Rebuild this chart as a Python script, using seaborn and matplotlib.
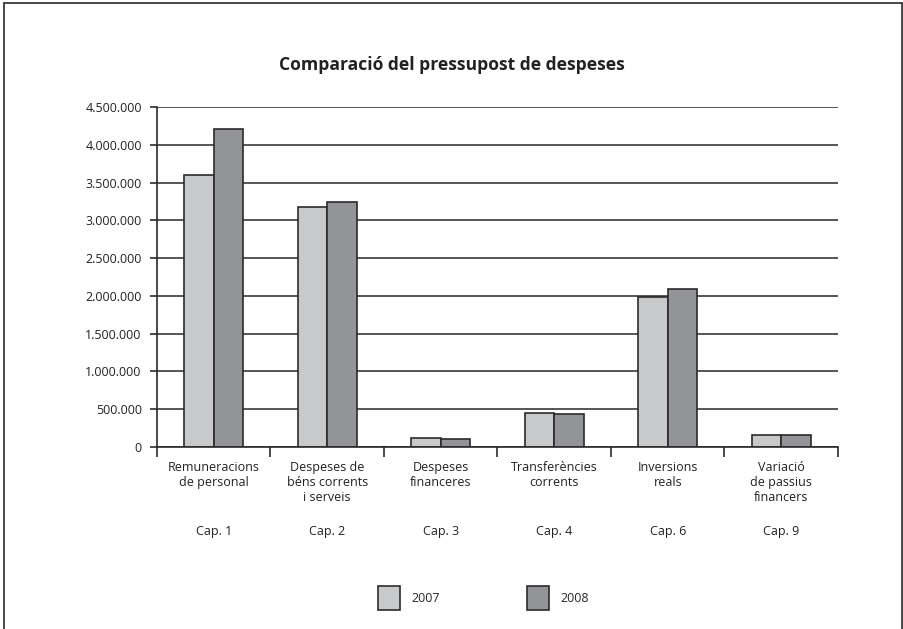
# Comparació del pressupost de despeses - grouped bars 2007 vs 2008
import pandas as pd
import numpy as np
import seaborn as sns
import matplotlib.pyplot as plt
from matplotlib.lines import Line2D
from matplotlib.ticker import FuncFormatter

# Data
categories = ['Remuneracions\nde personal', 'Despeses de\nbéns corrents\ni serveis',
              'Despeses\nfinanceres', 'Transferències\ncorrents',
              'Inversions\nreals', 'Variació\nde passius\nfinancers']
chapters = ['Cap. 1', 'Cap. 2', 'Cap. 3', 'Cap. 4', 'Cap. 6', 'Cap. 9']
values_2007 = [3600000, 3180000, 115000, 455000, 1990000, 160000]
values_2008 = [4205000, 3245000, 112000, 440000, 2090000, 160000]
years = ['2007', '2008']

df = pd.DataFrame({
    'categoria': categories * 2,
    'any': [years[0]] * len(categories) + [years[1]] * len(categories),
    'import': values_2007 + values_2008,
})

sns.set_style('white')
plt.rcParams['font.family'] = ['Open Sans', 'DejaVu Sans']

fig = plt.figure(figsize=(9.04, 6.29), dpi=100)
ax = fig.add_axes([157 / 904, 1 - 447 / 629, (838 - 157) / 904, 340 / 629])

sns.barplot(data=df, x='categoria', y='import', hue='any', order=categories,
            palette=['#c8c9cb', '#939498'], width=0.52, gap=0,
            edgecolor='#2b2b2b', linewidth=1.2, saturation=1, ax=ax)

# Axis styling
ax.set_ylim(0, 4500000)
ax.set_xlim(-0.5, len(categories) - 0.5)
ax.set_yticks(np.arange(0, 4500001, 500000))
ax.yaxis.set_major_formatter(FuncFormatter(lambda v, p: f'{int(v):,}'.replace(',', '.')))
ax.grid(axis='y', color='#3a3a3a', linewidth=1.2)
ax.set_axisbelow(True)
for side in ['top', 'right']:
    ax.spines[side].set_visible(False)
for side in ['left', 'bottom']:
    ax.spines[side].set_color('#2b2b2b')
    ax.spines[side].set_linewidth(1.2)
ax.tick_params(axis='y', length=5, width=1.2, color='#2b2b2b', labelsize=9,
               labelcolor='#222222', pad=6, left=True)
ax.set_xlabel('')
ax.set_ylabel('')

# x ticks at category boundaries, labels centred on categories
ax.set_xticks(np.arange(-0.5, len(categories), 1))
ax.set_xticklabels([])
ax.tick_params(axis='x', which='major', length=7, width=1.2, color='#2b2b2b', bottom=True)
ax.set_xticks(np.arange(len(categories)), minor=True)
ax.set_xticklabels(categories, minor=True, fontsize=9, color='#222222', linespacing=1.2)
ax.tick_params(axis='x', which='minor', length=0, pad=10)

for i, cap in enumerate(chapters):
    ax.text(i, -0.25, cap, transform=ax.get_xaxis_transform(), ha='center', va='center',
            fontsize=9, color='#222222')

# Legend at the bottom with tall swatches
handles, labels = ax.get_legend_handles_labels()
ax.get_legend().remove()
fig.legend(handles, labels, loc='center', bbox_to_anchor=(0.535, 1 - 598 / 629), ncol=2,
           frameon=False, fontsize=9, handlelength=1.75, handleheight=2.6,
           columnspacing=7.0, handletextpad=0.9)

# Title
fig.text(0.5, 1 - 65 / 629, 'Comparació del pressupost de despeses', ha='center', va='center',
         fontsize=12.6, fontweight='bold', color='#222222')

# Outer frame (left, top, right)
fx0, fx1, fy1 = 4 / 904, 902 / 904, 1 - 3 / 629
for xs, ys in [([fx0, fx0], [0, fy1]), ([fx0, fx1], [fy1, fy1]), ([fx1, fx1], [fy1, 0])]:
    fig.add_artist(Line2D(xs, ys, transform=fig.transFigure, color='#2b2b2b', linewidth=1.2))

fig.savefig('out.png', dpi=100)
